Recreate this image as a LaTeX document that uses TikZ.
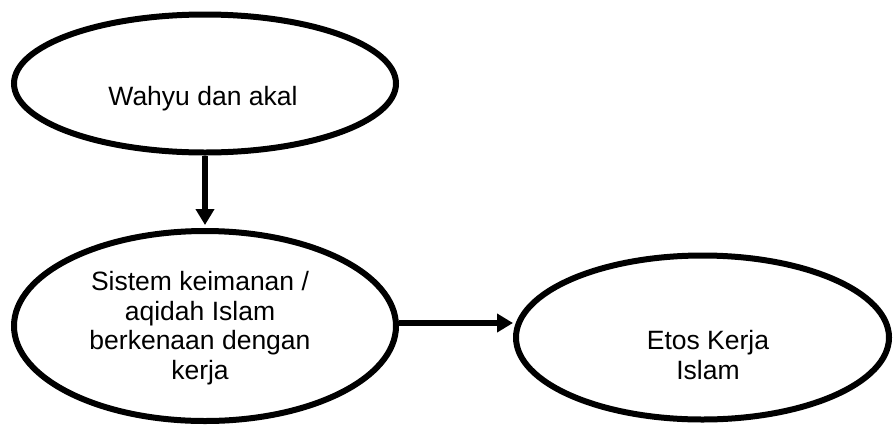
\documentclass[tikz,border=0pt]{standalone}
\usepackage{fontspec}
\setmainfont{Liberation Sans}
\usetikzlibrary{shapes, arrows.meta, positioning}

\tikzset{
  elips/.style={draw, ellipse, line width=6pt, inner sep=0pt},
  teks/.style={align=center, inner sep=0pt, font=\fontsize{26.5}{29.5}\selectfont},
  panah/.style={line width=5.5pt, -{Triangle[length=16pt,width=18pt]}}
}

\begin{document}
\begin{tikzpicture}[x=1pt, y=-1pt]
  \useasboundingbox (0,0) rectangle (894,424);

  % Elips atas
  \node[elips, minimum width=382pt, minimum height=138pt] (wahyu) at (205,83.5) {};
  \node[teks, anchor=base] (wahyu-teks) at (203,105) {Wahyu dan akal};

  % Elips kiri bawah
  \node[elips, minimum width=382pt, minimum height=190pt] (sistem) at (205,326) {};
  \node[teks] (sistem-teks) at (200,328) {Sistem keimanan /\\ aqidah Islam\\ berkenaan dengan\\ kerja};

  % Elips kanan
  \node[elips, minimum width=373pt, minimum height=164pt] (etos) at (702.5,337.5) {};
  \node[teks] (etos-teks) at (708,355) {Etos Kerja\\ Islam};

  % Panah
  \coordinate (mulai) at ([yshift=3pt]sistem.east);
  \draw[panah, shorten >=3pt] (wahyu) -- (sistem);
  \draw[panah] (mulai) -- (mulai -| etos.west);
\end{tikzpicture}
\end{document}
